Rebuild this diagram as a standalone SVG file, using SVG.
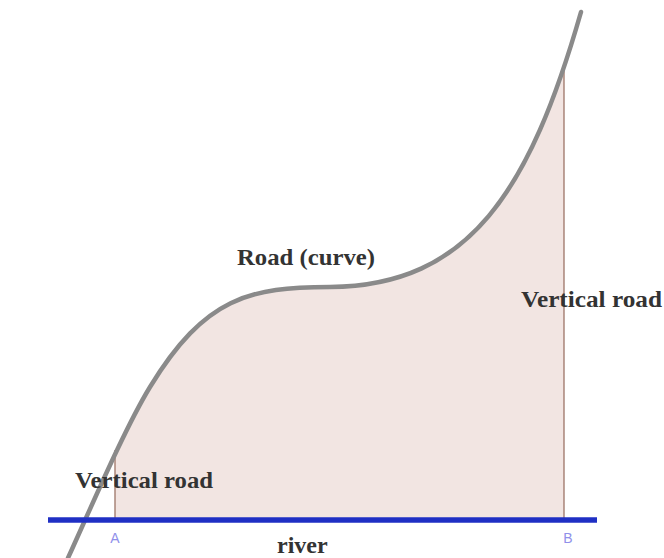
<svg xmlns="http://www.w3.org/2000/svg" width="664" height="558" viewBox="0 0 664 558">
<defs>
<style>
.lbl{font-family:"Liberation Serif","Times New Roman",serif;font-size:24px;font-weight:bold;fill:#333}
.pt{font-family:"Liberation Sans",Arial,sans-serif;font-size:14px;fill:#9090ea;text-anchor:middle}
.vline{stroke:#9c7466;stroke-width:1.3;fill:none}
</style>
<clipPath id="region"><rect x="115" y="0" width="449" height="520"/></clipPath>
</defs>
<rect width="664" height="558" fill="#fff"/>
<g id="area">
<path clip-path="url(#region)" fill="#f2e5e2" d="M68,558 C93,503 125,428 150,387 C205,297 250,287 330,287 C470,286 530,190 581,12 L600,12 L600,520 L60,520 Z"/>
</g>
<g id="connectors">
<line id="vertA" class="vline" x1="115" y1="450" x2="115" y2="520"/>
<line id="vertB" class="vline" x1="564" y1="70" x2="564" y2="520"/>
</g>
<g id="road">
<path d="M68,558 C93,503 125,428 150,387 C205,297 250,287 330,287 C470,286 530,190 581,12" fill="none" stroke="#8a8a8a" stroke-width="4.5" stroke-linecap="round"/>
</g>
<g id="river">
<line x1="48" y1="520" x2="597" y2="520" stroke="#1f2fc4" stroke-width="5.5"/>
</g>
<g id="labels">
<text class="lbl" x="237" y="265" textLength="138" lengthAdjust="spacingAndGlyphs">Road (curve)</text>
<text class="lbl" x="521" y="307" textLength="141" lengthAdjust="spacingAndGlyphs">Vertical road</text>
<text class="lbl" x="75" y="488" textLength="138" lengthAdjust="spacingAndGlyphs">Vertical road</text>
<text class="lbl" x="277" y="553">river</text>
<text class="pt" x="115" y="543">A</text>
<text class="pt" x="568" y="543">B</text>
</g>
</svg>
